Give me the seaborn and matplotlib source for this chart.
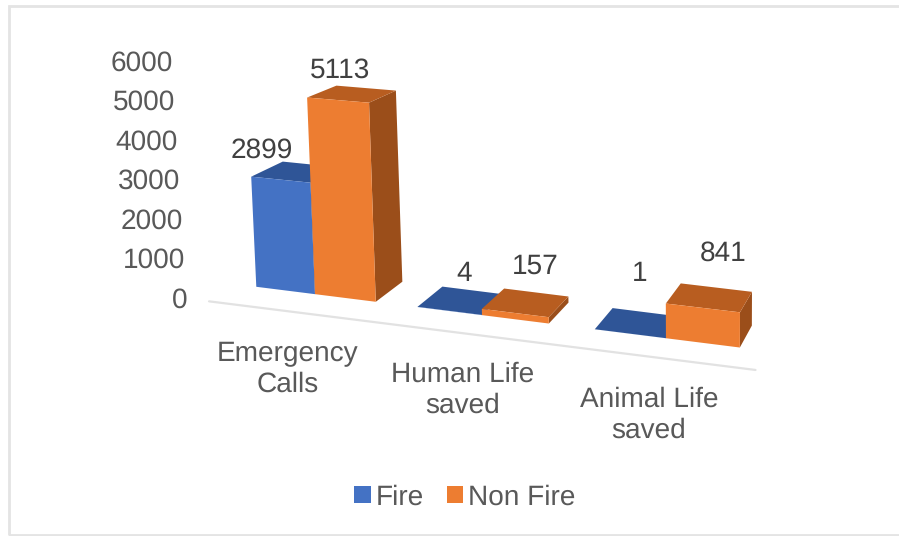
import numpy as np
import pandas as pd
import matplotlib
matplotlib.use('Agg')
import matplotlib.pyplot as plt
import seaborn as sns
from matplotlib.lines import Line2D
from matplotlib.patches import Polygon, Rectangle
from matplotlib.transforms import Transform, IdentityTransform

categories = ['Emergency\nCalls', 'Human Life\nsaved', 'Animal Life\nsaved']
fire = [2899, 4, 1]
non_fire = [5113, 157, 841]
yticks = [0, 1000, 2000, 3000, 4000, 5000, 6000]

front_col = {'Fire': '#4472C4', 'Non Fire': '#ED7D31'}
top_col = {'Fire': '#2F5597', 'Non Fire': '#B85D20'}
side_col = {'Fire': '#264478', 'Non Fire': '#9B4E1A'}
# hand nudges for the value labels, pixels from the front top centre of each bar
nudge = {'Fire': [(-19, -29), (15, -37), (10, -60)], 'Non Fire': [(2, -30), (20, -47), (21, -54)]}

W, H = 899, 536
VANISH = np.array([1040., -200.])
DEPTH = 0.04


# fake 3d camera: category/value/depth to pixels (y measured from the top)
def project(u, v, z=0.):
    u, v = np.asarray(u, float), np.asarray(v, float)
    x = (315 + 144.7*u)/(1 - 0.0462*u)
    y = 287 + 0.1256*(x - 258)
    h = (0.038 + 8e-6*(x - 258))*v
    x = x + h*(x - 700)/9600
    y = y - h
    return x + z*(VANISH[0] - x), y + z*(VANISH[1] - y)


class Camera(Transform):
    input_dims = 2
    output_dims = 2
    has_inverse = False
    is_affine = False

    def __init__(self, z=0.):
        super().__init__()
        self.z = z

    def transform_non_affine(self, values):
        values = np.asarray(values, float)
        x, y = project(values[:, 0], values[:, 1], self.z)
        return np.column_stack([x, H - y])


sns.set_theme(style='white', font='Liberation Sans')
plt.rcParams['text.hinting'] = 'no_hinting'
plt.rcParams['text.hinting_factor'] = 1
fig = plt.figure(figsize=(W/100, H/100), dpi=100)
ax = fig.add_axes([0, 0, 1, 1])

df = pd.DataFrame({'cat': categories*2, 'val': fire + non_fire,
                   'kind': ['Fire']*3 + ['Non Fire']*3})
sns.barplot(data=df, x='cat', y='val', hue='kind', palette=front_col, width=0.75, gap=0,
            saturation=1, ax=ax, linewidth=0)
ax.set_xlim(-0.5, 2.5)
ax.set_ylim(0, 6000)

handles, labels = ax.get_legend_handles_labels()
ax.get_legend().remove()
ax.axis('off')

# floor line in front of the bars
ax.add_line(Line2D([-0.5, 2.5], [0, 0], color='#e2e2e2', lw=1.6, transform=Camera(-0.035), clip_on=False))

front = Camera()
back = Camera(DEPTH)
zo = 3
for kind, cont in zip(['Fire', 'Non Fire'], ax.containers):
    for i, bar in enumerate(cont):
        x0, x1 = bar.get_x(), bar.get_x() + bar.get_width()
        v = bar.get_height()
        side = [(x1, 0), (x1, v)]
        top = [(x0, v), (x1, v)]
        side_pts = np.vstack([front.transform(np.array(side)), back.transform(np.array(side))[::-1]])
        top_pts = np.vstack([front.transform(np.array(top)), back.transform(np.array(top))[::-1]])
        for pts, col in ((side_pts, side_col[kind]), (top_pts, top_col[kind])):
            ax.add_patch(Polygon(pts, closed=True, fc=col, ec='none', transform=IdentityTransform(),
                                 clip_on=False, zorder=zo))
        bar.set_transform(front)
        bar.set_clip_on(False)
        bar.set_zorder(zo + 0.5)
        zo += 1
        fx, fy = project((x0 + x1)/2, v)
        ax.text(fx + nudge[kind][i][0], H - (fy + nudge[kind][i][1]), f'{v:.0f}', transform=IdentityTransform(),
                ha='center', va='center', fontsize=20, color='#404040', zorder=20)

# axis labels follow the tilted left edge of the floor
for t in yticks:
    tx, ty = project(-0.5, t, -0.035)
    ax.text(tx - 21.5 - t/2000, H - (ty - 1 - t/3000), str(t), transform=IdentityTransform(), ha='right', va='center',
            fontsize=20, color='#595959')

for lab, (cx, cy) in zip(categories, [(288, 369), (463, 390), (649, 415)]):
    ax.text(cx, H - cy, lab, transform=IdentityTransform(), ha='center', va='center',
            fontsize=20, color='#595959', linespacing=1.2)

fig.legend(handles, labels, loc='center', bbox_to_anchor=(465/W, 1 - 497/H), ncol=2, frameon=False,
           fontsize=20, labelcolor='#595959', handlelength=0.58, handleheight=0.58, handletextpad=0.2,
           columnspacing=0.8, borderpad=0)

# outer chart frame, right side runs off the crop
fig.add_artist(Rectangle((9/W, 1/H), W, 1 - 7/H, transform=fig.transFigure, fc='none', ec='#e4e4e4', lw=2))

fig.savefig('out.png', dpi=100)
